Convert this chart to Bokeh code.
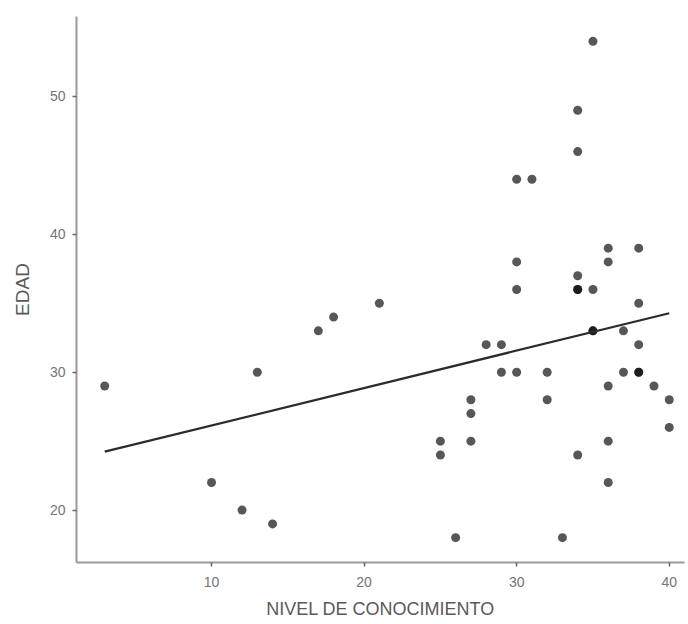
import numpy as np
from bokeh.plotting import figure
from bokeh.models import FixedTicker, ColumnDataSource
from bokeh.embed import file_html
from bokeh.resources import INLINE

nivel = [3, 10, 12, 13, 14, 17, 18, 21, 25, 25, 26, 27, 27, 27, 28, 29, 29,
         30, 30, 30, 30, 31, 32, 32, 33, 34, 34, 34, 34, 34, 34, 35, 35, 35, 35,
         36, 36, 36, 36, 36, 37, 37, 38, 38, 38, 38, 38, 39, 40, 40]
edad = [29, 22, 20, 30, 19, 33, 34, 35, 25, 24, 18, 28, 27, 25, 32, 32, 30,
        44, 38, 36, 30, 44, 30, 28, 18, 49, 46, 37, 36, 36, 24, 54, 36, 33, 33,
        39, 38, 29, 25, 22, 33, 30, 39, 35, 32, 30, 30, 29, 28, 26]
x_ticks = [10, 20, 30, 40]
y_ticks = [20, 30, 40, 50]

src = ColumnDataSource(dict(x=nivel, y=edad))

# linear fit
slope, intercept = np.polyfit(nivel, edad, 1)
fx = [min(nivel), max(nivel)]
fy = [intercept + slope * v for v in fx]

p = figure(width=688, height=624, x_range=(1.15, 41.0), y_range=(16.2, 55.8),
           output_backend="svg", toolbar_location=None,
           min_border_left=76, min_border_right=4, min_border_top=16,
           min_border_bottom=62)
p.outline_line_color = None
p.grid.grid_line_color = None
p.background_fill_color = "white"
p.border_fill_color = "white"

p.scatter("x", "y", source=src, size=9, fill_color="black", fill_alpha=0.66,
          line_color=None)
p.line(fx, fy, line_color="#2b2b2b", line_width=2.2)

for ax in (p.xaxis[0], p.yaxis[0]):
    ax.axis_line_color = "#9a9a9a"
    ax.axis_line_width = 2
    ax.major_tick_line_color = "#666666"
    ax.major_tick_line_width = 1.5
    ax.major_tick_out = 4
    ax.major_tick_in = 0
    ax.minor_tick_line_color = None
    ax.major_label_text_color = "#747474"
    ax.major_label_text_font = "Liberation Sans"
    ax.major_label_text_font_size = "14px"
    ax.axis_label_text_color = "#5a5a5a"
    ax.axis_label_text_font = "Liberation Sans"
    ax.axis_label_text_font_style = "normal"

p.xaxis[0].axis_label_text_font_size = "18px"
p.yaxis[0].axis_label_text_font_size = "19px"
p.xaxis[0].ticker = FixedTicker(ticks=x_ticks)
p.yaxis[0].ticker = FixedTicker(ticks=y_ticks)
p.xaxis[0].axis_label = "NIVEL DE CONOCIMIENTO"
p.yaxis[0].axis_label = "EDAD"
p.xaxis[0].major_label_standoff = 10
p.yaxis[0].major_label_standoff = 7
p.xaxis[0].axis_label_standoff = 9
p.yaxis[0].axis_label_standoff = 14

open("out.html", "w").write(file_html(p, INLINE))
